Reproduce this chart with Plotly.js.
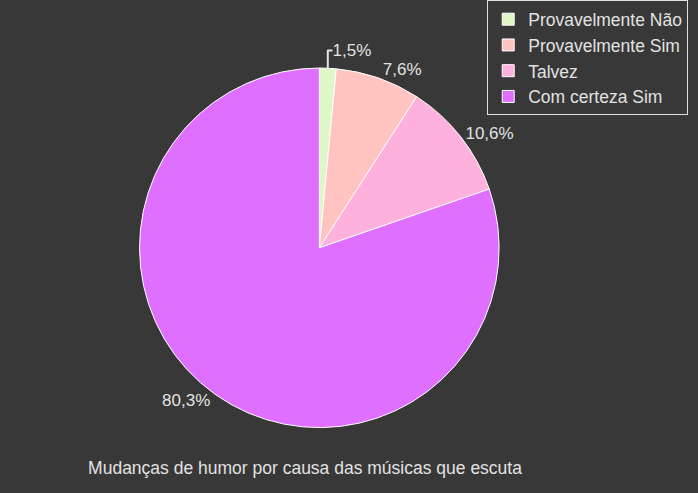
<!DOCTYPE html>
<html>
<head>
<meta charset="utf-8">
<script src="https://cdn.plot.ly/plotly-3.0.1.min.js"></script>
<style>html,body{margin:0;padding:0;background:#383838;}</style>
</head>
<body>
<div id="chart" style="width:698px;height:493px;"></div>
<script>
var labels = ['Provavelmente Não', 'Provavelmente Sim', 'Talvez', 'Com certeza Sim'];
var values = [1.5, 7.6, 10.6, 80.3];
var colors = ['#def7c6', '#ffc4c0', '#ffb1dd', '#df6fff'];

var trace = {
  type: 'pie',
  labels: labels,
  values: values,
  sort: false,
  direction: 'clockwise',
  rotation: 0,
  textposition: 'outside',
  texttemplate: '%{value:.1f}%',
  hoverinfo: 'label+percent',
  outsidetextfont: {color: '#e2e2e2', size: 17},
  marker: {
    colors: colors,
    line: {color: '#ffffff', width: 1}
  },
  domain: {x: [0.18, 0.735], y: [0.14, 0.91]}
};

var layout = {
  width: 698,
  height: 493,
  paper_bgcolor: '#383838',
  plot_bgcolor: '#383838',
  font: {family: 'Liberation Sans, Arial, sans-serif', color: '#e2e2e2', size: 17.5},
  separators: ',.',
  margin: {l: 0, r: 0, t: 0, b: 0},
  title: {
    text: 'Mudanças de humor por causa das músicas que escuta',
    x: 0.437,
    xanchor: 'center',
    y: 0.05,
    yanchor: 'middle',
    font: {size: 17.5, color: '#e2e2e2'}
  },
  showlegend: true,
  legend: {
    x: 0.698,
    xanchor: 'left',
    y: 1.055,
    yanchor: 'top',
    bgcolor: '#383838',
    bordercolor: '#e0e0e0',
    borderwidth: 1,
    font: {size: 17.5, color: '#e2e2e2'},
    traceorder: 'normal'
  }
};

Plotly.newPlot('chart', [trace], layout, {displayModeBar: false});
</script>
</body>
</html>
